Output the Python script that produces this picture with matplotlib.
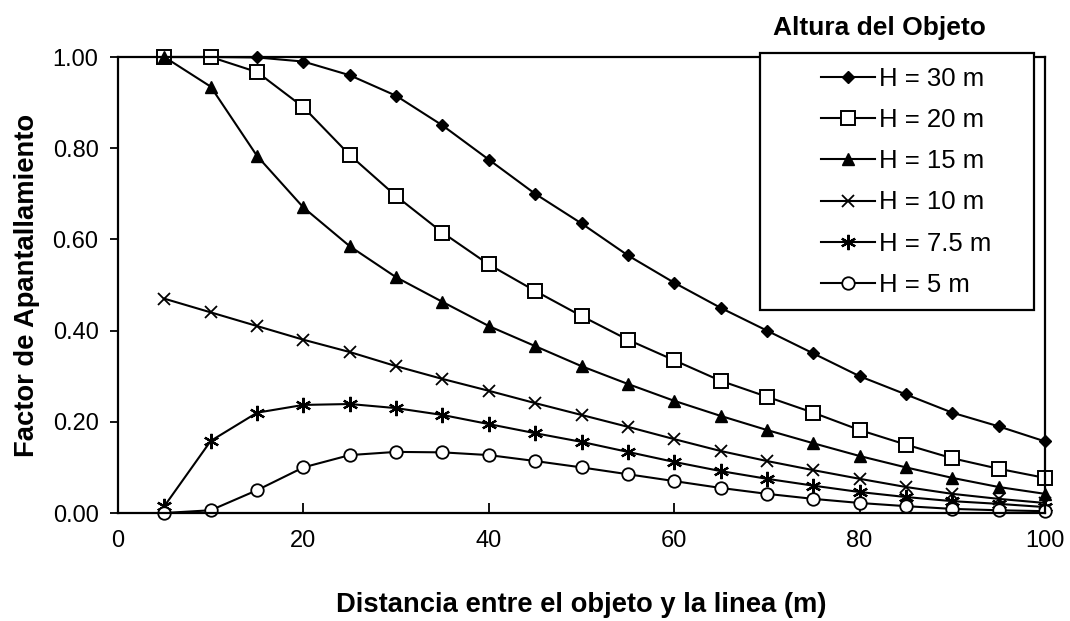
import numpy as np
import matplotlib.pyplot as plt
from matplotlib.patches import Rectangle

# Datos (distancia en m, factor de apantallamiento)
distancia = [5, 10, 15, 20, 25, 30, 35, 40, 45, 50, 55, 60, 65, 70, 75, 80, 85, 90, 95, 100]

h30 = [1.00, 1.00, 0.999, 0.99, 0.96, 0.915, 0.85, 0.775, 0.70, 0.635, 0.565, 0.505, 0.45, 0.40, 0.35, 0.30, 0.26, 0.22, 0.19, 0.157]
h20 = [1.00, 1.00, 0.967, 0.89, 0.785, 0.695, 0.615, 0.545, 0.487, 0.432, 0.38, 0.335, 0.29, 0.255, 0.22, 0.182, 0.15, 0.12, 0.097, 0.077]
h15 = [1.00, 0.935, 0.783, 0.67, 0.585, 0.517, 0.463, 0.41, 0.366, 0.322, 0.283, 0.246, 0.213, 0.182, 0.153, 0.125, 0.10, 0.077, 0.057, 0.042]
h10 = [0.47, 0.44, 0.41, 0.38, 0.353, 0.322, 0.294, 0.268, 0.241, 0.215, 0.189, 0.162, 0.136, 0.114, 0.094, 0.075, 0.057, 0.042, 0.031, 0.022]
h75 = [0.015, 0.158, 0.22, 0.237, 0.239, 0.23, 0.215, 0.195, 0.175, 0.156, 0.134, 0.112, 0.092, 0.075, 0.06, 0.046, 0.035, 0.026, 0.02, 0.013]
h5 = [0.00, 0.006, 0.05, 0.10, 0.127, 0.134, 0.133, 0.127, 0.114, 0.10, 0.085, 0.07, 0.055, 0.042, 0.031, 0.022, 0.015, 0.009, 0.006, 0.004]

etiquetas = ["H = 30 m", "H = 20 m", "H = 15 m", "H = 10 m", "H = 7.5 m", "H = 5 m"]
ticksY = [0, 0.2, 0.4, 0.6, 0.8, 1.0]
ticksX = [0, 20, 40, 60, 80, 100]

plt.rcParams['font.family'] = ['Liberation Sans', 'DejaVu Sans']

W, H = 1070, 621
fig = plt.figure(figsize=(W / 100, H / 100), dpi=100)
ax = fig.add_axes([118 / W, 1 - 513 / H, (1045 - 118) / W, (513 - 57) / H])

#estilo de cada serie: marcador, tamaño, relleno
estilos = [
    dict(marker="D", markersize=6.5, markerfacecolor="black"),
    dict(marker="s", markersize=10.5, markerfacecolor="white", markeredgewidth=1.4),
    dict(marker="^", markersize=8, markerfacecolor="black"),
    dict(marker="x", markersize=9, markeredgewidth=1.3),
    dict(marker=(6, 2, 0), markersize=11, markeredgewidth=1.6),
    dict(marker="o", markersize=9, markerfacecolor="white", markeredgewidth=1.3),
]
series = [h30, h20, h15, h10, h75, h5]

for valores, estilo, etiqueta in zip(series, estilos, etiquetas):
    ax.plot(distancia, valores, color="black", linewidth=1.5,
            markeredgecolor="black", label=etiqueta, clip_on=False, **estilo)

ax.set_xlim(0, 100)
ax.set_ylim(0, 1.0)
ax.set_xticks(ticksX)
ax.set_yticks(ticksY)
ax.set_yticklabels([f"{v:.2f}" for v in ticksY])
ax.tick_params(axis="x", direction="in", length=7, labelsize=17, pad=12, width=1.3)
ax.tick_params(axis="y", direction="out", length=6, labelsize=17, pad=8, width=1.3)
for s in ax.spines.values():
    s.set_linewidth(1.6)

ax.set_xlabel("Distancia entre el objeto y la linea (m)", fontsize=19.7, fontweight="bold", labelpad=29)
ax.set_ylabel("Factor de Apantallamiento", fontsize=19.7, fontweight="bold", labelpad=9)

# Caja de la leyenda dibujada aparte (el contenido queda centrado dentro)
caja = Rectangle((760 / W, 1 - 310 / H), 274 / W, 257 / H, transform=fig.transFigure,
                 facecolor="white", edgecolor="black", linewidth=1.6, zorder=10)
fig.patches.append(caja)

leg = fig.legend(*ax.get_legend_handles_labels(), loc="upper left",
                 bbox_to_anchor=(808 / W, 1 - 54 / H), frameon=False, fontsize=18.5,
                 handlelength=2.1, labelspacing=0.67, borderpad=0, handletextpad=0.15)
leg.set_zorder(11)

fig.text(879 / W, 1 - 28 / H, "Altura del Objeto", fontsize=19, fontweight="bold",
         ha="center", va="center")

fig.savefig("out.png", dpi=100)
